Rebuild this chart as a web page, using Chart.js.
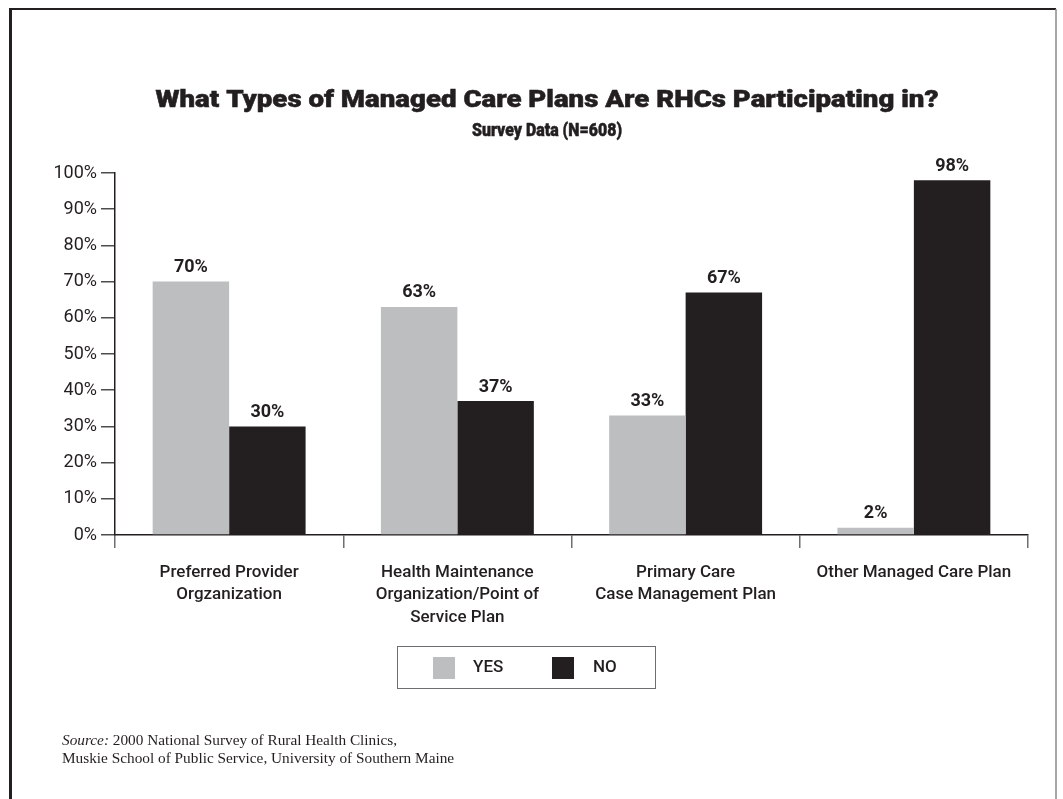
<!DOCTYPE html>
<html>
<head>
<meta charset="utf-8">
<script src="https://cdn.jsdelivr.net/npm/chart.js@4.4.1/dist/chart.umd.min.js"></script>
<style>
  html, body { margin: 0; padding: 0; background: #ffffff; }
  canvas { display: block; }
</style>
</head>
<body>
<canvas id="chart" width="1063" height="799"></canvas>
<script>
// Plan categories (multi-line axis labels)
const categories = [
  ['Preferred Provider', 'Orgzanization'],
  ['Health Maintenance', 'Organization/Point of', 'Service Plan'],
  ['Primary Care', 'Case Management Plan'],
  ['Other Managed Care Plan']
];
// Share of clinics participating (%)
const yesValues = [70, 63, 33, 2];
const noValues  = [30, 37, 67, 98];
const seriesNames = ['YES', 'NO'];
const yTicks = [0, 10, 20, 30, 40, 50, 60, 70, 80, 90, 100];

const INK = '#231f20';
const GREY = '#bcbec0';
const SANS = 'Roboto, "Liberation Sans", sans-serif';
const SERIF = '"Liberation Serif", "DejaVu Serif", serif';

// Draws a heavy heading, stretched horizontally to a given width
function heading(ctx, text, cx, cy, font, width) {
  ctx.save();
  ctx.font = font;
  const natural = ctx.measureText(text).width;
  ctx.translate(cx, cy);
  ctx.scale(width / natural, 1);
  ctx.textAlign = 'center';
  ctx.textBaseline = 'middle';
  ctx.lineWidth = 0.5;
  ctx.strokeStyle = INK;
  ctx.fillText(text, 0, 0);
  ctx.strokeText(text, 0, 0);
  ctx.restore();
}

// Frame, headings and source note
const decorations = {
  id: 'decorations',
  afterDraw(chart) {
    const ctx = chart.ctx;
    const W = chart.width;
    ctx.save();
    // outer frame
    ctx.strokeStyle = INK;
    ctx.lineWidth = 2;
    ctx.beginPath(); ctx.moveTo(9, 9); ctx.lineTo(W - 7, 9); ctx.stroke();
    ctx.lineWidth = 3;
    ctx.beginPath(); ctx.moveTo(10.5, 9); ctx.lineTo(10.5, chart.height); ctx.stroke();
    ctx.strokeStyle = '#8a8a8c';
    ctx.lineWidth = 1.5;
    ctx.beginPath(); ctx.moveTo(W - 7, 9); ctx.lineTo(W - 7, chart.height); ctx.stroke();

    // headings
    ctx.fillStyle = INK;
    heading(ctx, 'What Types of Managed Care Plans Are RHCs Participating in?', 547, 101, '900 23px ' + SANS, 783);
    heading(ctx, 'Survey Data (N=608)', 547, 131, '900 18px ' + SANS, 150);

    // source note
    ctx.textAlign = 'left';
    ctx.textBaseline = 'alphabetic';
    ctx.font = 'italic 15.3px ' + SERIF;
    ctx.fillText('Source:', 62, 745);
    const w = ctx.measureText('Source: ').width;
    ctx.font = '15.3px ' + SERIF;
    ctx.fillText('2000 National Survey of Rural Health Clinics,', 62 + w, 745);
    ctx.fillText('Muskie School of Public Service, University of Southern Maine', 62, 763);
    ctx.restore();
  }
};

// Value labels above each bar
const valueLabels = {
  id: 'valueLabels',
  afterDatasetsDraw(chart) {
    const ctx = chart.ctx;
    ctx.save();
    ctx.fillStyle = INK;
    ctx.font = 'bold 18px ' + SANS;
    ctx.textAlign = 'center';
    ctx.textBaseline = 'bottom';
    chart.data.datasets.forEach((ds, i) => {
      chart.getDatasetMeta(i).data.forEach((bar, j) => {
        ctx.fillText(ds.data[j] + '%', bar.x, bar.y - 5);
      });
    });
    ctx.restore();
  }
};

// Boxed legend below the axis labels
const boxedLegend = {
  id: 'boxedLegend',
  afterDraw(chart) {
    const ctx = chart.ctx;
    ctx.save();
    ctx.strokeStyle = '#6d6e71';
    ctx.lineWidth = 1;
    ctx.strokeRect(397.5, 646.5, 258, 42);
    const entries = [
      { sx: 433, tx: 473 },
      { sx: 552, tx: 593 }
    ];
    ctx.font = '500 17px ' + SANS;
    ctx.textBaseline = 'middle';
    ctx.textAlign = 'left';
    chart.data.datasets.forEach((ds, i) => {
      const e = entries[i];
      ctx.fillStyle = ds.backgroundColor;
      ctx.fillRect(e.sx, 657, 22, 22);
      ctx.fillStyle = INK;
      ctx.fillText(ds.label, e.tx, 668);
    });
    ctx.restore();
  }
};

new Chart(document.getElementById('chart'), {
  type: 'bar',
  data: {
    labels: categories,
    datasets: [
      { label: seriesNames[0], data: yesValues, backgroundColor: GREY,
        categoryPercentage: 0.67, barPercentage: 1.0 },
      { label: seriesNames[1], data: noValues, backgroundColor: INK,
        categoryPercentage: 0.67, barPercentage: 1.0 }
    ]
  },
  options: {
    responsive: false,
    animation: false,
    devicePixelRatio: 1,
    layout: { padding: { top: 173, right: 35, left: 0, bottom: 0 } },
    plugins: {
      legend: { display: false },
      title: { display: false },
      tooltip: { enabled: false }
    },
    scales: {
      x: {
        afterFit(scale) { scale.height = 264; },
        grid: { offset: true, drawOnChartArea: false, tickLength: 13, color: '#6d6e71', lineWidth: 1.5 },
        border: { display: true, color: INK, width: 1.5 },
        ticks: {
          color: INK,
          padding: 14,
          maxRotation: 0,
          autoSkip: false,
          font: { family: SANS, size: 17, weight: '500', lineHeight: 1.3 }
        }
      },
      y: {
        min: 0,
        max: 100,
        afterFit(scale) { scale.width = 115; },
        afterBuildTicks(scale) { scale.ticks = yTicks.map(v => ({ value: v })); },
        grid: { drawOnChartArea: false, tickLength: 14, color: '#4d4d4f', lineWidth: 1.5 },
        border: { display: true, color: INK, width: 1.5 },
        ticks: {
          color: INK,
          padding: 4,
          font: { family: SANS, size: 18 },
          callback: v => v + '%'
        }
      }
    }
  },
  plugins: [decorations, valueLabels, boxedLegend]
});
</script>
</body>
</html>
